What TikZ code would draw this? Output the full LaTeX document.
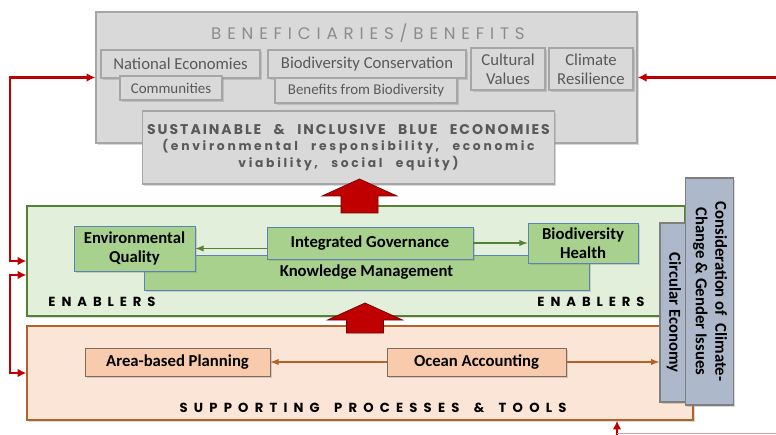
\documentclass[tikz,border=0pt]{standalone}
\usepackage{fontspec}
\setmainfont{Carlito}
\newfontfamily\benfont[LetterSpace=35]{Poppins}
\newfontfamily\susfont[LetterSpace=14,WordSpace=2.5]{Poppins}
\newfontfamily\sussubfont[LetterSpace=22,WordSpace=2.5]{Poppins}
\newfontfamily\enfont[LetterSpace=45]{Poppins}
\newfontfamily\supfont[LetterSpace=47,WordSpace=1.6]{Poppins}
\usetikzlibrary{arrows,arrows.meta,shadows}
\definecolor{bengray}{HTML}{D9D9D9}
\definecolor{benline}{HTML}{A6A6A6}
\definecolor{bentext}{HTML}{595959}
\definecolor{titlegray}{HTML}{8C8C8C}
\definecolor{enfill}{HTML}{E2EFDA}
\definecolor{enline}{HTML}{548235}
\definecolor{gfill}{HTML}{A9D18E}
\definecolor{gline}{HTML}{5B83B5}
\definecolor{supfill}{HTML}{FBE5D6}
\definecolor{supline}{HTML}{B5622A}
\definecolor{ofill}{HTML}{F8CBAD}
\definecolor{oline}{HTML}{7F6A5F}
\definecolor{vfill}{HTML}{ADB9CA}
\definecolor{vline}{HTML}{7F7F7F}
\definecolor{darkred}{HTML}{C00000}
\tikzset{
  sz/.style 2 args={minimum width=#1*0.02cm, minimum height=#2*0.02cm},
  box/.style={rectangle, draw, inner sep=1pt, align=center,
    drop shadow={shadow xshift=1pt, shadow yshift=-1pt, opacity=0.3}},
  graybox/.style={box, fill=bengray, draw=benline, line width=0.8pt},
  benbox/.style={graybox, text=bentext, font=\fontsize{9.5}{11}\selectfont},
  enbox/.style={box, fill=enfill, draw=enline, line width=0.8pt},
  gbox/.style={box, fill=gfill, draw=gline, line width=0.5pt, font=\bfseries\fontsize{9.5}{11}\selectfont},
  supbox/.style={box, fill=supfill, draw=supline, line width=0.8pt},
  obox/.style={box, fill=ofill, draw=oline, line width=0.5pt, font=\bfseries\fontsize{9.5}{11}\selectfont},
  vbox/.style={box, fill=vfill, draw=vline, line width=0.8pt, font=\bfseries\fontsize{9.5}{11}\selectfont},
  captext/.style={inner sep=0pt, font=\bfseries\fontsize{7.5}{9}\selectfont},
  arrow/.style={->, >=latex},
  garrow/.style={arrow, draw=enline, line width=0.6pt},
  barrow/.style={arrow, draw=supline, line width=0.6pt},
  redarrow/.style={draw=darkred, line width=1.2pt, >={Latex[length=5pt,width=5pt]}},
  bigarrow/.style={fill=darkred, draw=darkred!60!black, line width=0.4pt},
}
% block arrow pointing up: x, bottom y, tip y
\newcommand{\uparrowshape}[3]{%
  \draw[bigarrow] (#1-18.5,#2) -- (#1-18.5,#3+17) -- (#1-37.5,#3+17) -- (#1,#3)
    -- (#1+37.5,#3+17) -- (#1+18.5,#3+17) -- (#1+18.5,#2) -- cycle;}
\begin{document}
\begin{tikzpicture}[x=0.02cm, y=-0.02cm]
  \useasboundingbox (0,0) rectangle (776,435);
  % beneficiaries / benefits
  \node[graybox, sz={541}{131}] (ben) at (366.5,77.5) {};
  \node[inner sep=0pt, text=titlegray, font=\benfont\fontsize{9.5}{11}\selectfont] (bent) at (368,33) {BENEFICIARIES/BENEFITS};
  \node[benbox, sz={159}{28}] (nat) at (180.5,64) {National Economies};
  \node[benbox, sz={102}{24}, font=\fontsize{8.5}{10}\selectfont] (com) at (171,88) {Communities};
  \node[benbox, sz={198}{28}] (bio) at (367,64) {Biodiversity Conservation};
  \node[benbox, sz={182}{25}, font=\fontsize{8.5}{10}\selectfont] (bfb) at (366,90.5) {Benefits from Biodiversity};
  \node[benbox, sz={74}{42}] (cul) at (508,69) {Cultural\\Values};
  \node[benbox, sz={84}{42}] (cli) at (591,69) {Climate\\Resilience};
  \node[graybox, sz={412}{73}, text=bentext, font=\bfseries\fontsize{7}{9.4}\selectfont] (sus) at (348.5,147.5)
    {{\susfont\fontsize{8}{9.4}\selectfont SUSTAINABLE \& INCLUSIVE BLUE ECONOMIES}\\
     {\sussubfont (environmental responsibility, economic}\\
     {\sussubfont viability, social equity)}};
  % enablers
  \node[enbox, sz={658}{110}] (en) at (356,261) {};
  \node[gbox, sz={445}{35}] (km) at (366.5,272.5) {Knowledge Management};
  \node[gbox, sz={121}{45}] (eq) at (134.5,248.5) {Environmental\\Quality};
  \node[gbox, sz={206}{32}] (ig) at (370,243) {Integrated Governance};
  \node[gbox, sz={110}{40}] (bh) at (583,243) {Biodiversity\\Health};
  \node[captext] (enl) at (102,302) {\enfont ENABLERS};
  \node[captext] (enr) at (591,302) {\enfont ENABLERS};
  \draw[garrow] (ig.west |- eq.east) -- (eq.east);
  \draw[garrow] (ig) -- (bh);
  % supporting processes and tools
  \node[supbox, sz={666}{94}] (sup) at (360,373) {};
  \node[obox, sz={185}{28}] (abp) at (177.5,362) {Area-based Planning};
  \node[obox, sz={179}{28}] (oa) at (476.5,362) {Ocean Accounting};
  \node[captext] (supl) at (373,408) {\supfont SUPPORTING PROCESSES \& TOOLS};
  \node[vbox, sz={28}{179}] (ce) at (674,312.5) {\rotatebox{-90}{Circular Economy}};
  \node[vbox, sz={48}{227}] (cons) at (709.5,291.5)
    {\rotatebox{-90}{\begin{tabular}{@{}c@{}}Consideration of~~Climate-\\Change \& Gender Issues\end{tabular}}};
  \draw[barrow] (oa) -- (abp);
  \draw[barrow] (oa) -- (oa -| ce.west);
  % block arrows
  \uparrowshape{359.5}{213}{179}
  \uparrowshape{365}{333}{303}
  % feedback lines
  \coordinate (lft) at (10,170);
  \coordinate (lft2) at (10,275);
  \coordinate (rgt) at (776,77.5);
  \coordinate (bot) at (617,435);
  \coordinate (botr) at (776,433.5);
  \draw[redarrow, <->] (ben.west) -| (lft) |- (en.west);
  \draw[redarrow, <->] (en.west |- lft2) -- (lft2) |- (sup.west);
  \draw[redarrow, ->] (rgt) -- (ben.east);
  \draw[redarrow, ->] (bot) -- (bot |- sup.south);
  \draw[darkred!40, line width=0.5pt] (bot |- botr) -- (botr);
\end{tikzpicture}
\end{document}
